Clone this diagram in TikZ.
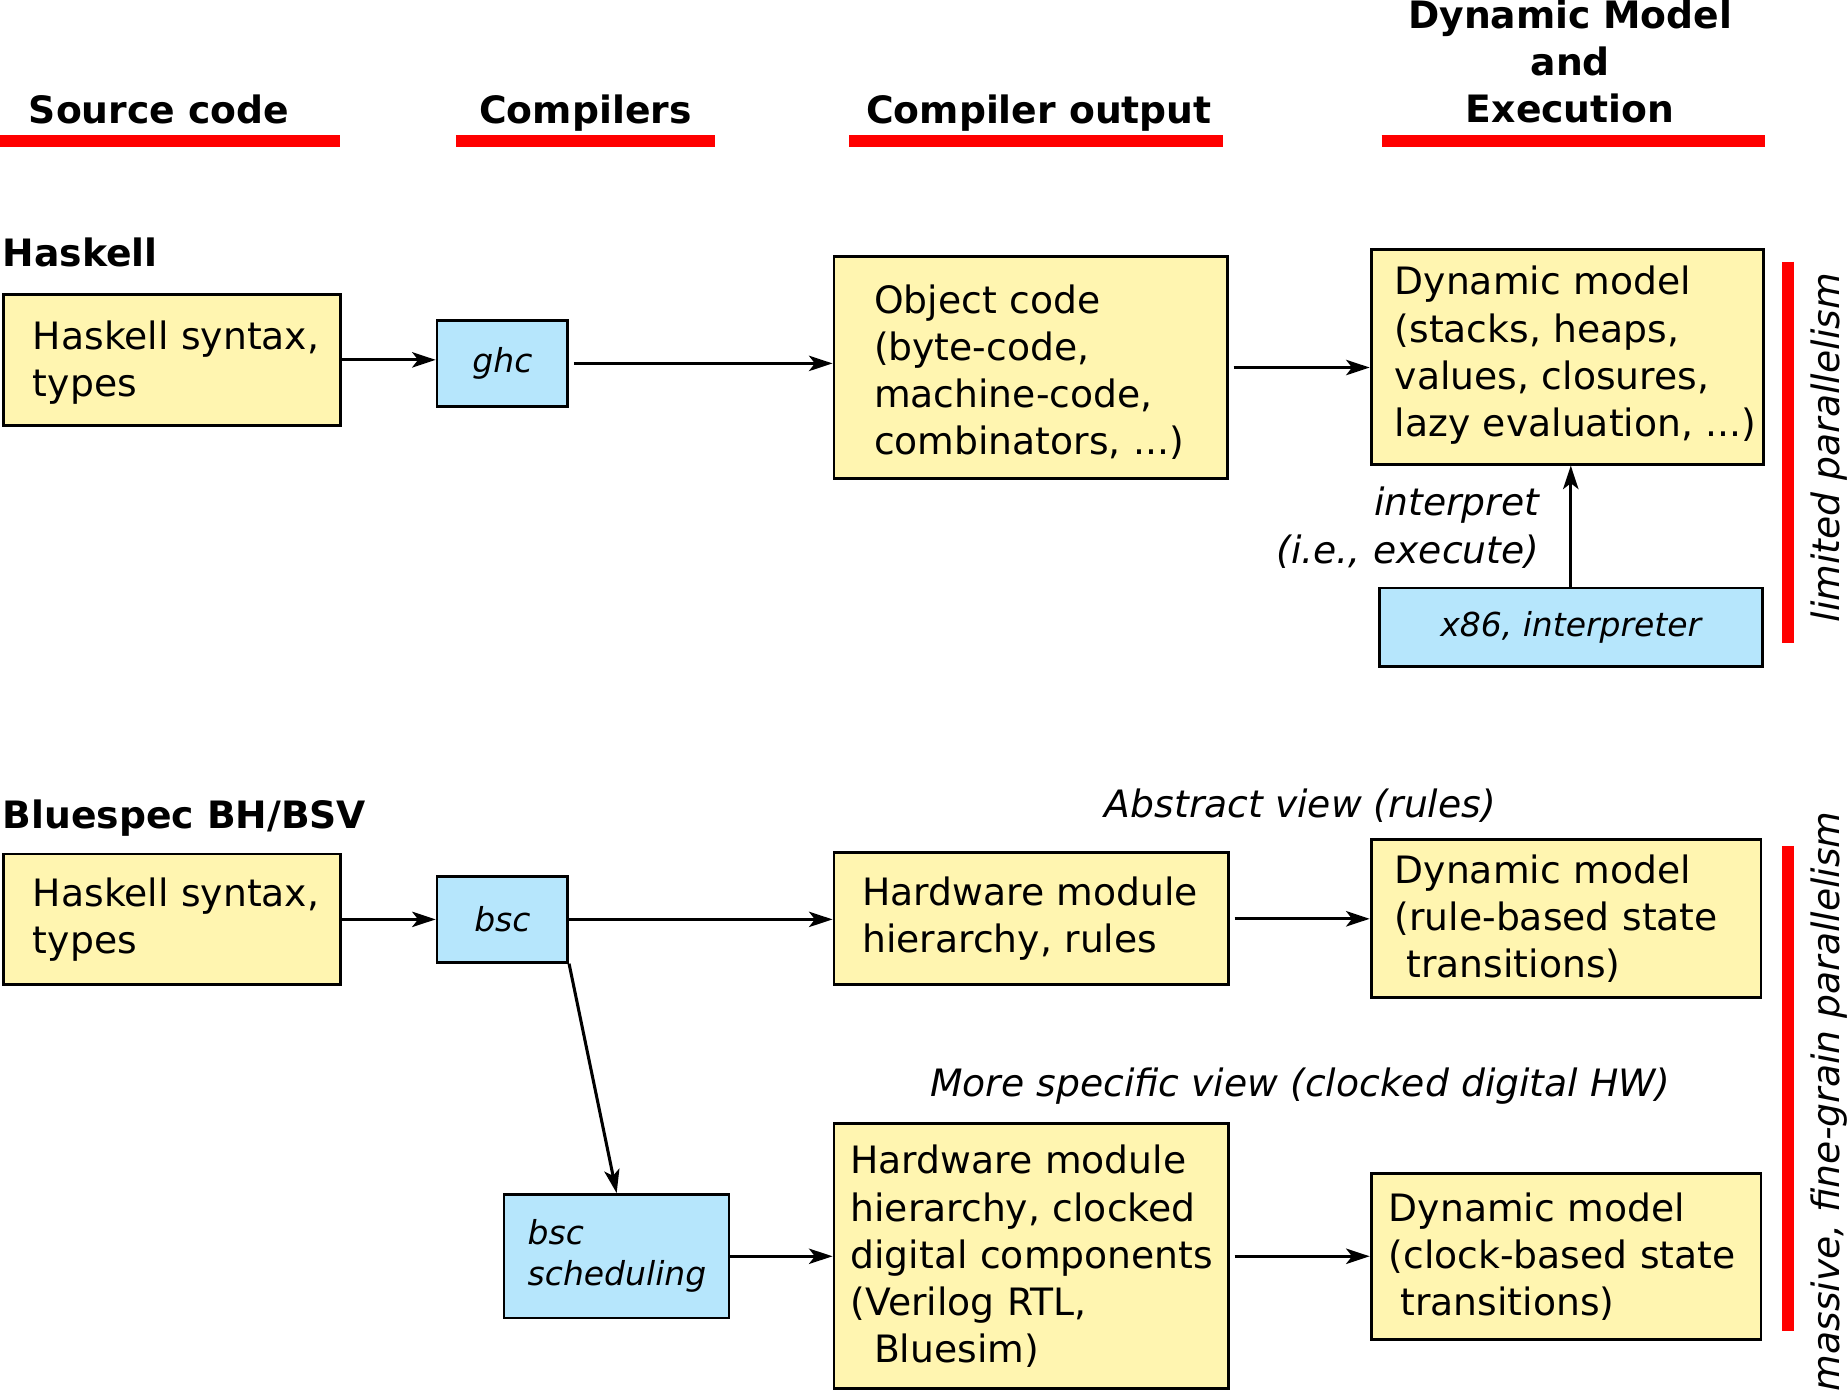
\documentclass[tikz,border=0pt]{standalone}
\usepackage{fontspec}
\setmainfont{DejaVu Sans}
\usetikzlibrary{arrows.meta}
\usetikzlibrary{positioning}
\newcommand{\bodyfont}{\fontsize{32}{40}\selectfont}
\newcommand{\toolfont}{\fontsize{28}{35}\selectfont\itshape}
\definecolor{byellow}{RGB}{255, 245, 176}
\definecolor{bblue}{RGB}{182, 230, 252}
\tikzset{
  ybox/.style = {draw, line width=2.4pt, fill=byellow, inner xsep=3pt, inner ysep=0pt, align=left, font=\bodyfont},
  bbox/.style = {draw, line width=2.2pt, fill=bblue, inner sep=0pt, font=\toolfont},
  indent/.style = {execute at begin node={\leftskip=#1}},
  tdepth/.style = {text height=28pt, text depth=#1},
  head/.style = {font=\bodyfont\bfseries, inner sep=0pt},
  lbl/.style = {font=\bodyfont\itshape, inner sep=0pt},
  flow/.style = {line width=2.6pt, -{Stealth[length=20pt, width=13pt, inset=5pt]}},
  gap/.style = {shorten <=4pt},
  bar/.style = {line width=10pt, red},
}

\begin{document}
\begin{tikzpicture}[x=1pt, y=-1pt]
      \useasboundingbox (0, 0) rectangle (1568, 1181);

      % column headings
      \node [head, anchor=base] (hsource) at (135, 104.5) {Source code};
      \node [head, anchor=base] (hcomp) at (497, 104.5) {Compilers};
      \node [head, anchor=base] (hout) at (882, 104.5) {Compiler output};
      \node [head, anchor=base, align=center, text width=320] (hexec) at (1333, 24) {Dynamic Model\\and\\Execution};
      \draw [bar] (0, 120) -- (289, 120);
      \draw [bar] (387, 120) -- (607, 120);
      \draw [bar] (721, 120) -- (1038, 120);
      \draw [bar] (1173, 120) -- (1498, 120);

      % Haskell
      \node [head, anchor=base west] (haskell) at (2, 226) {Haskell};
      \node [ybox, text width=280, indent=22pt, tdepth=46.4pt, minimum height=111] (hsrc) at (146, 305.5) {Haskell syntax,\\types};
      \node [bbox, minimum width=111, minimum height=73] (ghc) at (426.5, 308.5) {ghc};
      \node [ybox, text width=328, indent=31pt, tdepth=120pt, minimum height=188] (obj) at (875, 312) {Object code\\(byte-code,\\machine-code,\\combinators, ...)};
      \node [ybox, text width=327, indent=17pt, tdepth=133.2pt, minimum height=182] (dyn) at (1330.5, 303) {Dynamic model\\(stacks, heaps,\\values, closures,\\lazy evaluation, ...)};
      \node [bbox, minimum width=325, minimum height=67] (x86) at (1333.5, 532.5) {x86, interpreter};
      \node [lbl, anchor=base east, align=right, text width=260] (interp) at (1307, 438) {interpret\\(i.e., execute)};

      \draw [flow] (hsrc.east) -- (hsrc.east -| ghc.west);
      \draw [flow, gap] (ghc.east) -- (ghc.east -| obj.west);
      \draw [flow, gap] (obj.east) -- (obj.east -| dyn.west);
      \draw [flow] (x86.north) -- (x86.north |- dyn.south);

      \draw [bar] (1518, 222) -- (1518, 546);
      \node [lbl, rotate=90] (limited) at (1553, 380) {limited parallelism};

      % Bluespec
      \node [head, anchor=base west] (bluespec) at (2, 703) {Bluespec BH/BSV};
      \node [ybox, text width=280, indent=22pt, minimum height=111] (bsrc) at (146, 780.5) {Haskell syntax,\\types};
      \node [bbox, minimum width=111, minimum height=73] (bsc) at (426.5, 780.5) {bsc};
      \node [lbl] (abstract) at (1104, 684) {Abstract view (rules)};
      \node [ybox, text width=329, indent=21pt, minimum height=112] (hw1) at (875.5, 780) {Hardware module\\hierarchy, rules};
      \node [ybox, text width=325, indent=17pt, minimum height=134] (dyn2) at (1329.5, 780) {Dynamic model\\(rule-based state\\\hspace*{10pt}transitions)};

      \node [bbox, align=left, inner xsep=3pt, text width=185, indent=17pt, minimum height=105] (bscs) at (523.5, 1066.5) {bsc\\scheduling};
      \node [lbl] (specific) at (1104, 922) {More specific view (clocked digital HW)};
      \node [ybox, text width=329, indent=11pt, minimum height=225] (hw2) at (875.5, 1066.5) {Hardware module\\hierarchy, clocked\\digital components\\(Verilog RTL,\\\hspace*{20pt}Bluesim)};
      \node [ybox, text width=325, indent=12pt, minimum height=141] (dyn3) at (1329.5, 1066.5) {Dynamic model\\(clock-based state\\\hspace*{10pt}transitions)};

      \draw [flow] (bsrc.east) -- (bsrc.east -| bsc.west);
      \draw [flow] (bsc.east) -- (bsc.east -| hw1.west);
      \draw [flow, gap] (hw1.east) -- (hw1.east -| dyn2.west);
      \draw [flow] (bsc.south east) -- (bscs.north);
      \draw [flow] (bscs.east) -- (bscs.east -| hw2.west);
      \draw [flow, gap] (hw2.east) -- (hw2.east -| dyn3.west);

      \draw [bar] (1518, 718) -- (1518, 1130);
      \node [lbl, rotate=90] (massive) at (1553, 935) {massive, fine-grain parallelism};

    \end{tikzpicture}
\end{document}
